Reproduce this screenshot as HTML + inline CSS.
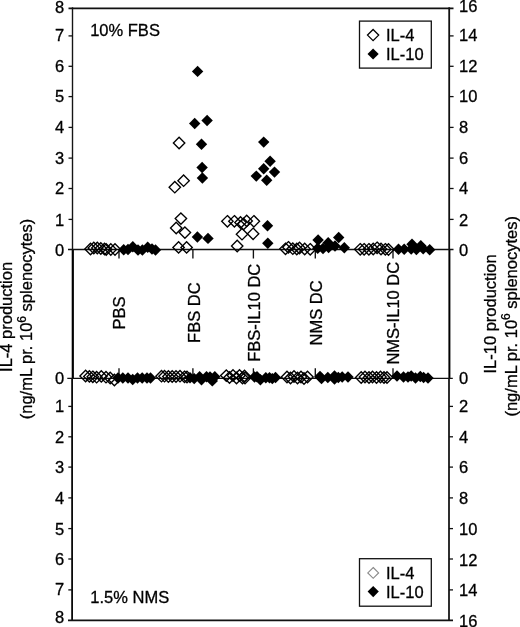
<!DOCTYPE html>
<html><head><meta charset="utf-8"><title>IL-4 / IL-10 production</title>
<style>html,body{margin:0;padding:0;background:#fff;}body{width:520px;height:627px;overflow:hidden;font-family:"Liberation Sans",sans-serif;}svg{display:block;will-change:transform;}</style>
</head><body>
<svg width="520" height="627" viewBox="0 0 520 627" font-family="Liberation Sans, sans-serif" font-size="16.5" fill="#000">
<rect width="520" height="627" fill="#fff"/>
<style>text{stroke:#000;stroke-width:0.3;}</style>
<line x1="72.5" y1="7.3" x2="72.5" y2="249.6" stroke="#151515" stroke-width="1.4"/><line x1="72.8" y1="249.6" x2="72.8" y2="378.3" stroke="#000" stroke-width="2.2"/><line x1="72.1" y1="378.3" x2="72.1" y2="621.1" stroke="#0a0a0a" stroke-width="1.8"/><line x1="449.2" y1="7.3" x2="449.2" y2="249.6" stroke="#111" stroke-width="1.8"/><line x1="449.4" y1="249.6" x2="449.4" y2="378.3" stroke="#000" stroke-width="2.0"/><line x1="449.0" y1="378.3" x2="449.0" y2="621.1" stroke="#0a0a0a" stroke-width="1.7"/><line x1="68.5" y1="8.4" x2="453.5" y2="8.4" stroke="#111" stroke-width="1.8"/><line x1="68.0" y1="620.3" x2="453.0" y2="620.3" stroke="#111" stroke-width="1.8"/><line x1="68.0" y1="249.55" x2="453.5" y2="249.55" stroke="#111" stroke-width="1.4"/><line x1="67.3" y1="378.4" x2="452.8" y2="378.4" stroke="#111" stroke-width="1.3"/><line x1="68.5" y1="35.9" x2="72.5" y2="35.9" stroke="#111" stroke-width="1.3"/><line x1="449.2" y1="35.9" x2="453.6" y2="35.9" stroke="#111" stroke-width="1.3"/><line x1="68.5" y1="66.3" x2="72.5" y2="66.3" stroke="#111" stroke-width="1.3"/><line x1="449.2" y1="66.3" x2="453.6" y2="66.3" stroke="#111" stroke-width="1.3"/><line x1="68.5" y1="96.6" x2="72.5" y2="96.6" stroke="#111" stroke-width="1.3"/><line x1="449.2" y1="96.6" x2="453.6" y2="96.6" stroke="#111" stroke-width="1.3"/><line x1="68.5" y1="127.4" x2="72.5" y2="127.4" stroke="#111" stroke-width="1.3"/><line x1="449.2" y1="127.4" x2="453.6" y2="127.4" stroke="#111" stroke-width="1.3"/><line x1="68.5" y1="158.1" x2="72.5" y2="158.1" stroke="#111" stroke-width="1.3"/><line x1="449.2" y1="158.1" x2="453.6" y2="158.1" stroke="#111" stroke-width="1.3"/><line x1="68.5" y1="188.5" x2="72.5" y2="188.5" stroke="#111" stroke-width="1.3"/><line x1="449.2" y1="188.5" x2="453.6" y2="188.5" stroke="#111" stroke-width="1.3"/><line x1="68.5" y1="219.4" x2="72.5" y2="219.4" stroke="#111" stroke-width="1.3"/><line x1="449.2" y1="219.4" x2="453.6" y2="219.4" stroke="#111" stroke-width="1.3"/><line x1="68.3" y1="406.4" x2="72.1" y2="406.4" stroke="#111" stroke-width="1.3"/><line x1="449.0" y1="406.4" x2="453.0" y2="406.4" stroke="#111" stroke-width="1.3"/><line x1="68.3" y1="436.8" x2="72.1" y2="436.8" stroke="#111" stroke-width="1.3"/><line x1="449.0" y1="436.8" x2="453.0" y2="436.8" stroke="#111" stroke-width="1.3"/><line x1="68.3" y1="467.1" x2="72.1" y2="467.1" stroke="#111" stroke-width="1.3"/><line x1="449.0" y1="467.1" x2="453.0" y2="467.1" stroke="#111" stroke-width="1.3"/><line x1="68.3" y1="497.9" x2="72.1" y2="497.9" stroke="#111" stroke-width="1.3"/><line x1="449.0" y1="497.9" x2="453.0" y2="497.9" stroke="#111" stroke-width="1.3"/><line x1="68.3" y1="528.6" x2="72.1" y2="528.6" stroke="#111" stroke-width="1.3"/><line x1="449.0" y1="528.6" x2="453.0" y2="528.6" stroke="#111" stroke-width="1.3"/><line x1="68.3" y1="559.0" x2="72.1" y2="559.0" stroke="#111" stroke-width="1.3"/><line x1="449.0" y1="559.0" x2="453.0" y2="559.0" stroke="#111" stroke-width="1.3"/><line x1="68.3" y1="589.9" x2="72.1" y2="589.9" stroke="#111" stroke-width="1.3"/><line x1="449.0" y1="589.9" x2="453.0" y2="589.9" stroke="#111" stroke-width="1.3"/><line x1="119" y1="249.6" x2="119" y2="258.5" stroke="#111" stroke-width="1.35"/><line x1="119" y1="368.3" x2="119" y2="378.2" stroke="#111" stroke-width="1.35"/><line x1="192.9" y1="249.6" x2="192.9" y2="258.5" stroke="#111" stroke-width="1.35"/><line x1="192.9" y1="368.3" x2="192.9" y2="378.2" stroke="#111" stroke-width="1.35"/><line x1="253.4" y1="249.6" x2="253.4" y2="258.5" stroke="#111" stroke-width="1.35"/><line x1="253.4" y1="368.3" x2="253.4" y2="378.2" stroke="#111" stroke-width="1.35"/><line x1="315.3" y1="249.6" x2="315.3" y2="258.5" stroke="#111" stroke-width="1.35"/><line x1="315.3" y1="368.3" x2="315.3" y2="378.2" stroke="#111" stroke-width="1.35"/><line x1="393" y1="249.6" x2="393" y2="258.5" stroke="#111" stroke-width="1.35"/><line x1="393" y1="368.3" x2="393" y2="378.2" stroke="#111" stroke-width="1.35"/>
<path d="M90.50 243.30L96.20 249.00L90.50 254.70L84.80 249.00Z" fill="none" stroke="#000" stroke-width="1.35" stroke-linejoin="miter"/><path d="M93.80 242.30L99.50 248.00L93.80 253.70L88.10 248.00Z" fill="none" stroke="#000" stroke-width="1.35" stroke-linejoin="miter"/><path d="M97.30 242.30L103.00 248.00L97.30 253.70L91.60 248.00Z" fill="none" stroke="#000" stroke-width="1.35" stroke-linejoin="miter"/><path d="M100.80 242.80L106.50 248.50L100.80 254.20L95.10 248.50Z" fill="none" stroke="#000" stroke-width="1.35" stroke-linejoin="miter"/><path d="M104.50 243.30L110.20 249.00L104.50 254.70L98.80 249.00Z" fill="none" stroke="#000" stroke-width="1.35" stroke-linejoin="miter"/><path d="M106.20 243.80L111.90 249.50L106.20 255.20L100.50 249.50Z" fill="none" stroke="#000" stroke-width="1.35" stroke-linejoin="miter"/><path d="M110.80 243.80L116.50 249.50L110.80 255.20L105.10 249.50Z" fill="none" stroke="#000" stroke-width="1.35" stroke-linejoin="miter"/><path d="M115.00 243.80L120.70 249.50L115.00 255.20L109.30 249.50Z" fill="none" stroke="#000" stroke-width="1.35" stroke-linejoin="miter"/><path d="M179.10 137.30L184.80 143.00L179.10 148.70L173.40 143.00Z" fill="none" stroke="#000" stroke-width="1.35" stroke-linejoin="miter"/><path d="M183.60 175.00L189.30 180.70L183.60 186.40L177.90 180.70Z" fill="none" stroke="#000" stroke-width="1.35" stroke-linejoin="miter"/><path d="M174.80 181.50L180.50 187.20L174.80 192.90L169.10 187.20Z" fill="none" stroke="#000" stroke-width="1.35" stroke-linejoin="miter"/><path d="M180.90 212.90L186.60 218.60L180.90 224.30L175.20 218.60Z" fill="none" stroke="#000" stroke-width="1.35" stroke-linejoin="miter"/><path d="M176.20 222.30L181.90 228.00L176.20 233.70L170.50 228.00Z" fill="none" stroke="#000" stroke-width="1.35" stroke-linejoin="miter"/><path d="M184.90 226.90L190.60 232.60L184.90 238.30L179.20 232.60Z" fill="none" stroke="#000" stroke-width="1.35" stroke-linejoin="miter"/><path d="M178.60 241.70L184.30 247.40L178.60 253.10L172.90 247.40Z" fill="none" stroke="#000" stroke-width="1.35" stroke-linejoin="miter"/><path d="M186.60 241.70L192.30 247.40L186.60 253.10L180.90 247.40Z" fill="none" stroke="#000" stroke-width="1.35" stroke-linejoin="miter"/><path d="M227.40 215.60L233.10 221.30L227.40 227.00L221.70 221.30Z" fill="none" stroke="#000" stroke-width="1.35" stroke-linejoin="miter"/><path d="M234.40 215.60L240.10 221.30L234.40 227.00L228.70 221.30Z" fill="none" stroke="#000" stroke-width="1.35" stroke-linejoin="miter"/><path d="M240.50 216.80L246.20 222.50L240.50 228.20L234.80 222.50Z" fill="none" stroke="#000" stroke-width="1.35" stroke-linejoin="miter"/><path d="M243.50 218.30L249.20 224.00L243.50 229.70L237.80 224.00Z" fill="none" stroke="#000" stroke-width="1.35" stroke-linejoin="miter"/><path d="M246.70 215.20L252.40 220.90L246.70 226.60L241.00 220.90Z" fill="none" stroke="#000" stroke-width="1.35" stroke-linejoin="miter"/><path d="M253.90 215.60L259.60 221.30L253.90 227.00L248.20 221.30Z" fill="none" stroke="#000" stroke-width="1.35" stroke-linejoin="miter"/><path d="M242.00 228.50L247.70 234.20L242.00 239.90L236.30 234.20Z" fill="none" stroke="#000" stroke-width="1.35" stroke-linejoin="miter"/><path d="M253.10 228.10L258.80 233.80L253.10 239.50L247.40 233.80Z" fill="none" stroke="#000" stroke-width="1.35" stroke-linejoin="miter"/><path d="M237.20 240.30L242.90 246.00L237.20 251.70L231.50 246.00Z" fill="none" stroke="#000" stroke-width="1.35" stroke-linejoin="miter"/><path d="M285.50 243.10L291.20 248.80L285.50 254.50L279.80 248.80Z" fill="none" stroke="#000" stroke-width="1.35" stroke-linejoin="miter"/><path d="M288.40 241.60L294.10 247.30L288.40 253.00L282.70 247.30Z" fill="none" stroke="#000" stroke-width="1.35" stroke-linejoin="miter"/><path d="M292.80 243.00L298.50 248.70L292.80 254.40L287.10 248.70Z" fill="none" stroke="#000" stroke-width="1.35" stroke-linejoin="miter"/><path d="M296.80 243.30L302.50 249.00L296.80 254.70L291.10 249.00Z" fill="none" stroke="#000" stroke-width="1.35" stroke-linejoin="miter"/><path d="M299.50 242.30L305.20 248.00L299.50 253.70L293.80 248.00Z" fill="none" stroke="#000" stroke-width="1.35" stroke-linejoin="miter"/><path d="M304.70 243.30L310.40 249.00L304.70 254.70L299.00 249.00Z" fill="none" stroke="#000" stroke-width="1.35" stroke-linejoin="miter"/><path d="M310.20 243.60L315.90 249.30L310.20 255.00L304.50 249.30Z" fill="none" stroke="#000" stroke-width="1.35" stroke-linejoin="miter"/><path d="M360.20 243.60L365.90 249.30L360.20 255.00L354.50 249.30Z" fill="none" stroke="#000" stroke-width="1.35" stroke-linejoin="miter"/><path d="M364.10 243.60L369.80 249.30L364.10 255.00L358.40 249.30Z" fill="none" stroke="#000" stroke-width="1.35" stroke-linejoin="miter"/><path d="M368.90 243.60L374.60 249.30L368.90 255.00L363.20 249.30Z" fill="none" stroke="#000" stroke-width="1.35" stroke-linejoin="miter"/><path d="M373.20 243.30L378.90 249.00L373.20 254.70L367.50 249.00Z" fill="none" stroke="#000" stroke-width="1.35" stroke-linejoin="miter"/><path d="M377.10 242.10L382.80 247.80L377.10 253.50L371.40 247.80Z" fill="none" stroke="#000" stroke-width="1.35" stroke-linejoin="miter"/><path d="M381.00 243.30L386.70 249.00L381.00 254.70L375.30 249.00Z" fill="none" stroke="#000" stroke-width="1.35" stroke-linejoin="miter"/><path d="M385.30 243.60L391.00 249.30L385.30 255.00L379.60 249.30Z" fill="none" stroke="#000" stroke-width="1.35" stroke-linejoin="miter"/><path d="M388.50 243.80L394.20 249.50L388.50 255.20L382.80 249.50Z" fill="none" stroke="#000" stroke-width="1.35" stroke-linejoin="miter"/><path d="M85.60 370.30L91.30 376.00L85.60 381.70L79.90 376.00Z" fill="none" stroke="#000" stroke-width="1.35" stroke-linejoin="miter"/><path d="M89.40 370.70L95.10 376.40L89.40 382.10L83.70 376.40Z" fill="none" stroke="#000" stroke-width="1.35" stroke-linejoin="miter"/><path d="M92.80 371.10L98.50 376.80L92.80 382.50L87.10 376.80Z" fill="none" stroke="#000" stroke-width="1.35" stroke-linejoin="miter"/><path d="M96.60 371.50L102.30 377.20L96.60 382.90L90.90 377.20Z" fill="none" stroke="#000" stroke-width="1.35" stroke-linejoin="miter"/><path d="M101.30 370.70L107.00 376.40L101.30 382.10L95.60 376.40Z" fill="none" stroke="#000" stroke-width="1.35" stroke-linejoin="miter"/><path d="M106.00 371.50L111.70 377.20L106.00 382.90L100.30 377.20Z" fill="none" stroke="#000" stroke-width="1.35" stroke-linejoin="miter"/><path d="M110.20 372.30L115.90 378.00L110.20 383.70L104.50 378.00Z" fill="none" stroke="#000" stroke-width="1.35" stroke-linejoin="miter"/><path d="M114.40 374.30L120.10 380.00L114.40 385.70L108.70 380.00Z" fill="none" stroke="#000" stroke-width="1.35" stroke-linejoin="miter"/><path d="M161.50 370.50L167.20 376.20L161.50 381.90L155.80 376.20Z" fill="none" stroke="#000" stroke-width="1.35" stroke-linejoin="miter"/><path d="M164.50 370.50L170.20 376.20L164.50 381.90L158.80 376.20Z" fill="none" stroke="#000" stroke-width="1.35" stroke-linejoin="miter"/><path d="M168.40 370.80L174.10 376.50L168.40 382.20L162.70 376.50Z" fill="none" stroke="#000" stroke-width="1.35" stroke-linejoin="miter"/><path d="M172.20 370.80L177.90 376.50L172.20 382.20L166.50 376.50Z" fill="none" stroke="#000" stroke-width="1.35" stroke-linejoin="miter"/><path d="M176.00 370.80L181.70 376.50L176.00 382.20L170.30 376.50Z" fill="none" stroke="#000" stroke-width="1.35" stroke-linejoin="miter"/><path d="M180.00 370.50L185.70 376.20L180.00 381.90L174.30 376.20Z" fill="none" stroke="#000" stroke-width="1.35" stroke-linejoin="miter"/><path d="M184.50 371.10L190.20 376.80L184.50 382.50L178.80 376.80Z" fill="none" stroke="#000" stroke-width="1.35" stroke-linejoin="miter"/><path d="M187.00 371.30L192.70 377.00L187.00 382.70L181.30 377.00Z" fill="none" stroke="#000" stroke-width="1.35" stroke-linejoin="miter"/><path d="M226.30 369.90L232.00 375.60L226.30 381.30L220.60 375.60Z" fill="none" stroke="#000" stroke-width="1.35" stroke-linejoin="miter"/><path d="M229.50 371.80L235.20 377.50L229.50 383.20L223.80 377.50Z" fill="none" stroke="#000" stroke-width="1.35" stroke-linejoin="miter"/><path d="M233.00 369.80L238.70 375.50L233.00 381.20L227.30 375.50Z" fill="none" stroke="#000" stroke-width="1.35" stroke-linejoin="miter"/><path d="M236.50 372.30L242.20 378.00L236.50 383.70L230.80 378.00Z" fill="none" stroke="#000" stroke-width="1.35" stroke-linejoin="miter"/><path d="M239.50 369.80L245.20 375.50L239.50 381.20L233.80 375.50Z" fill="none" stroke="#000" stroke-width="1.35" stroke-linejoin="miter"/><path d="M242.50 372.30L248.20 378.00L242.50 383.70L236.80 378.00Z" fill="none" stroke="#000" stroke-width="1.35" stroke-linejoin="miter"/><path d="M244.50 370.30L250.20 376.00L244.50 381.70L238.80 376.00Z" fill="none" stroke="#000" stroke-width="1.35" stroke-linejoin="miter"/><path d="M245.00 372.30L250.70 378.00L245.00 383.70L239.30 378.00Z" fill="none" stroke="#000" stroke-width="1.35" stroke-linejoin="miter"/><path d="M287.00 371.30L292.70 377.00L287.00 382.70L281.30 377.00Z" fill="none" stroke="#000" stroke-width="1.35" stroke-linejoin="miter"/><path d="M290.50 372.30L296.20 378.00L290.50 383.70L284.80 378.00Z" fill="none" stroke="#000" stroke-width="1.35" stroke-linejoin="miter"/><path d="M294.00 370.80L299.70 376.50L294.00 382.20L288.30 376.50Z" fill="none" stroke="#000" stroke-width="1.35" stroke-linejoin="miter"/><path d="M297.50 372.30L303.20 378.00L297.50 383.70L291.80 378.00Z" fill="none" stroke="#000" stroke-width="1.35" stroke-linejoin="miter"/><path d="M301.00 371.30L306.70 377.00L301.00 382.70L295.30 377.00Z" fill="none" stroke="#000" stroke-width="1.35" stroke-linejoin="miter"/><path d="M304.00 372.80L309.70 378.50L304.00 384.20L298.30 378.50Z" fill="none" stroke="#000" stroke-width="1.35" stroke-linejoin="miter"/><path d="M307.50 371.30L313.20 377.00L307.50 382.70L301.80 377.00Z" fill="none" stroke="#000" stroke-width="1.35" stroke-linejoin="miter"/><path d="M361.20 371.80L366.90 377.50L361.20 383.20L355.50 377.50Z" fill="none" stroke="#000" stroke-width="1.35" stroke-linejoin="miter"/><path d="M365.00 371.30L370.70 377.00L365.00 382.70L359.30 377.00Z" fill="none" stroke="#000" stroke-width="1.35" stroke-linejoin="miter"/><path d="M369.00 371.80L374.70 377.50L369.00 383.20L363.30 377.50Z" fill="none" stroke="#000" stroke-width="1.35" stroke-linejoin="miter"/><path d="M372.50 371.30L378.20 377.00L372.50 382.70L366.80 377.00Z" fill="none" stroke="#000" stroke-width="1.35" stroke-linejoin="miter"/><path d="M376.50 371.80L382.20 377.50L376.50 383.20L370.80 377.50Z" fill="none" stroke="#000" stroke-width="1.35" stroke-linejoin="miter"/><path d="M380.50 371.30L386.20 377.00L380.50 382.70L374.80 377.00Z" fill="none" stroke="#000" stroke-width="1.35" stroke-linejoin="miter"/><path d="M384.00 371.80L389.70 377.50L384.00 383.20L378.30 377.50Z" fill="none" stroke="#000" stroke-width="1.35" stroke-linejoin="miter"/><path d="M387.00 371.80L392.70 377.50L387.00 383.20L381.30 377.50Z" fill="none" stroke="#000" stroke-width="1.35" stroke-linejoin="miter"/><path d="M123.70 244.00L129.40 249.70L123.70 255.40L118.00 249.70Z" fill="#000"/><path d="M128.00 243.80L133.70 249.50L128.00 255.20L122.30 249.50Z" fill="#000"/><path d="M132.80 241.10L138.50 246.80L132.80 252.50L127.10 246.80Z" fill="#000"/><path d="M138.00 244.30L143.70 250.00L138.00 255.70L132.30 250.00Z" fill="#000"/><path d="M142.40 244.30L148.10 250.00L142.40 255.70L136.70 250.00Z" fill="#000"/><path d="M147.70 241.60L153.40 247.30L147.70 253.00L142.00 247.30Z" fill="#000"/><path d="M152.00 243.30L157.70 249.00L152.00 254.70L146.30 249.00Z" fill="#000"/><path d="M155.50 244.30L161.20 250.00L155.50 255.70L149.80 250.00Z" fill="#000"/><path d="M197.60 65.70L203.30 71.40L197.60 77.10L191.90 71.40Z" fill="#000"/><path d="M194.70 117.80L200.40 123.50L194.70 129.20L189.00 123.50Z" fill="#000"/><path d="M207.10 114.80L212.80 120.50L207.10 126.20L201.40 120.50Z" fill="#000"/><path d="M201.50 138.60L207.20 144.30L201.50 150.00L195.80 144.30Z" fill="#000"/><path d="M202.10 161.80L207.80 167.50L202.10 173.20L196.40 167.50Z" fill="#000"/><path d="M202.40 172.30L208.10 178.00L202.40 183.70L196.70 178.00Z" fill="#000"/><path d="M197.40 231.30L203.10 237.00L197.40 242.70L191.70 237.00Z" fill="#000"/><path d="M208.00 232.70L213.70 238.40L208.00 244.10L202.30 238.40Z" fill="#000"/><path d="M263.70 136.40L269.40 142.10L263.70 147.80L258.00 142.10Z" fill="#000"/><path d="M270.10 155.60L275.80 161.30L270.10 167.00L264.40 161.30Z" fill="#000"/><path d="M263.70 163.00L269.40 168.70L263.70 174.40L258.00 168.70Z" fill="#000"/><path d="M274.50 166.40L280.20 172.10L274.50 177.80L268.80 172.10Z" fill="#000"/><path d="M256.30 170.40L262.00 176.10L256.30 181.80L250.60 176.10Z" fill="#000"/><path d="M266.70 174.50L272.40 180.20L266.70 185.90L261.00 180.20Z" fill="#000"/><path d="M267.50 220.10L273.20 225.80L267.50 231.50L261.80 225.80Z" fill="#000"/><path d="M267.80 237.60L273.50 243.30L267.80 249.00L262.10 243.30Z" fill="#000"/><path d="M318.10 234.30L323.80 240.00L318.10 245.70L312.40 240.00Z" fill="#000"/><path d="M328.20 237.10L333.90 242.80L328.20 248.50L322.50 242.80Z" fill="#000"/><path d="M338.70 231.80L344.40 237.50L338.70 243.20L333.00 237.50Z" fill="#000"/><path d="M344.30 242.10L350.00 247.80L344.30 253.50L338.60 247.80Z" fill="#000"/><path d="M317.70 242.60L323.40 248.30L317.70 254.00L312.00 248.30Z" fill="#000"/><path d="M323.00 242.80L328.70 248.50L323.00 254.20L317.30 248.50Z" fill="#000"/><path d="M328.60 241.80L334.30 247.50L328.60 253.20L322.90 247.50Z" fill="#000"/><path d="M335.00 240.30L340.70 246.00L335.00 251.70L329.30 246.00Z" fill="#000"/><path d="M398.50 243.60L404.20 249.30L398.50 255.00L392.80 249.30Z" fill="#000"/><path d="M404.20 243.60L409.90 249.30L404.20 255.00L398.50 249.30Z" fill="#000"/><path d="M412.00 238.60L417.70 244.30L412.00 250.00L406.30 244.30Z" fill="#000"/><path d="M420.80 240.10L426.50 245.80L420.80 251.50L415.10 245.80Z" fill="#000"/><path d="M429.70 244.00L435.40 249.70L429.70 255.40L424.00 249.70Z" fill="#000"/><path d="M411.20 243.30L416.90 249.00L411.20 254.70L405.50 249.00Z" fill="#000"/><path d="M416.40 243.80L422.10 249.50L416.40 255.20L410.70 249.50Z" fill="#000"/><path d="M423.20 243.10L428.90 248.80L423.20 254.50L417.50 248.80Z" fill="#000"/><path d="M118.00 372.30L123.70 378.00L118.00 383.70L112.30 378.00Z" fill="#000"/><path d="M122.80 372.30L128.50 378.00L122.80 383.70L117.10 378.00Z" fill="#000"/><path d="M128.00 372.30L133.70 378.00L128.00 383.70L122.30 378.00Z" fill="#000"/><path d="M132.70 373.80L138.40 379.50L132.70 385.20L127.00 379.50Z" fill="#000"/><path d="M137.50 372.30L143.20 378.00L137.50 383.70L131.80 378.00Z" fill="#000"/><path d="M142.20 372.30L147.90 378.00L142.20 383.70L136.50 378.00Z" fill="#000"/><path d="M147.00 372.30L152.70 378.00L147.00 383.70L141.30 378.00Z" fill="#000"/><path d="M150.50 372.30L156.20 378.00L150.50 383.70L144.80 378.00Z" fill="#000"/><path d="M190.00 372.10L195.70 377.80L190.00 383.50L184.30 377.80Z" fill="#000"/><path d="M194.20 372.90L199.90 378.60L194.20 384.30L188.50 378.60Z" fill="#000"/><path d="M199.60 371.10L205.30 376.80L199.60 382.50L193.90 376.80Z" fill="#000"/><path d="M201.50 374.00L207.20 379.70L201.50 385.40L195.80 379.70Z" fill="#000"/><path d="M206.50 371.10L212.20 376.80L206.50 382.50L200.80 376.80Z" fill="#000"/><path d="M210.00 371.30L215.70 377.00L210.00 382.70L204.30 377.00Z" fill="#000"/><path d="M212.30 375.20L218.00 380.90L212.30 386.60L206.60 380.90Z" fill="#000"/><path d="M214.80 371.10L220.50 376.80L214.80 382.50L209.10 376.80Z" fill="#000"/><path d="M254.50 371.30L260.20 377.00L254.50 382.70L248.80 377.00Z" fill="#000"/><path d="M257.00 371.10L262.70 376.80L257.00 382.50L251.30 376.80Z" fill="#000"/><path d="M260.40 374.00L266.10 379.70L260.40 385.40L254.70 379.70Z" fill="#000"/><path d="M265.80 372.10L271.50 377.80L265.80 383.50L260.10 377.80Z" fill="#000"/><path d="M269.50 372.10L275.20 377.80L269.50 383.50L263.80 377.80Z" fill="#000"/><path d="M272.30 372.90L278.00 378.60L272.30 384.30L266.60 378.60Z" fill="#000"/><path d="M275.50 371.80L281.20 377.50L275.50 383.20L269.80 377.50Z" fill="#000"/><path d="M320.00 370.80L325.70 376.50L320.00 382.20L314.30 376.50Z" fill="#000"/><path d="M321.50 372.80L327.20 378.50L321.50 384.20L315.80 378.50Z" fill="#000"/><path d="M327.80 371.80L333.50 377.50L327.80 383.20L322.10 377.50Z" fill="#000"/><path d="M334.50 370.30L340.20 376.00L334.50 381.70L328.80 376.00Z" fill="#000"/><path d="M334.50 373.30L340.20 379.00L334.50 384.70L328.80 379.00Z" fill="#000"/><path d="M338.30 371.80L344.00 377.50L338.30 383.20L332.60 377.50Z" fill="#000"/><path d="M342.20 371.30L347.90 377.00L342.20 382.70L336.50 377.00Z" fill="#000"/><path d="M348.00 371.30L353.70 377.00L348.00 382.70L342.30 377.00Z" fill="#000"/><path d="M397.00 370.30L402.70 376.00L397.00 381.70L391.30 376.00Z" fill="#000"/><path d="M403.50 371.30L409.20 377.00L403.50 382.70L397.80 377.00Z" fill="#000"/><path d="M408.00 371.30L413.70 377.00L408.00 382.70L402.30 377.00Z" fill="#000"/><path d="M411.20 370.30L416.90 376.00L411.20 381.70L405.50 376.00Z" fill="#000"/><path d="M415.50 372.30L421.20 378.00L415.50 383.70L409.80 378.00Z" fill="#000"/><path d="M420.30 370.80L426.00 376.50L420.30 382.20L414.60 376.50Z" fill="#000"/><path d="M423.60 371.80L429.30 377.50L423.60 383.20L417.90 377.50Z" fill="#000"/><path d="M428.00 372.30L433.70 378.00L428.00 383.70L422.30 378.00Z" fill="#000"/>
<rect x="359.5" y="21.1" width="71.8" height="47.0" fill="#fff" stroke="#111" stroke-width="1.3"/><path d="M373.10 29.50L378.70 35.10L373.10 40.70L367.50 35.10Z" fill="none" stroke="#000" stroke-width="1.3" stroke-linejoin="miter"/><path d="M373.10 48.40L378.70 54.00L373.10 59.60L367.50 54.00Z" fill="#000"/><text x="386" y="40.8">IL-4</text><text x="386" y="59.7">IL-10</text><rect x="359.5" y="558.7" width="71.8" height="47.5" fill="#fff" stroke="#111" stroke-width="1.3"/><path d="M373.20 567.50L378.60 572.90L373.20 578.30L367.80 572.90Z" fill="none" stroke="#8a8a8a" stroke-width="1.15" stroke-linejoin="miter"/><path d="M373.20 586.00L378.80 591.60L373.20 597.20L367.60 591.60Z" fill="#000"/><text x="386" y="579.0">IL-4</text><text x="386" y="597.9">IL-10</text>
<text x="64.3" y="12.6" text-anchor="end">8</text><text x="459.0" y="12.2">16</text><text x="64.3" y="40.8" text-anchor="end">7</text><text x="459.0" y="40.9">14</text><text x="64.3" y="71.9" text-anchor="end">6</text><text x="459.0" y="71.9">12</text><text x="64.3" y="101.9" text-anchor="end">5</text><text x="459.0" y="101.9">10</text><text x="64.3" y="132.7" text-anchor="end">4</text><text x="459.0" y="132.7">8</text><text x="64.3" y="164.1" text-anchor="end">3</text><text x="459.0" y="164.1">6</text><text x="64.3" y="193.9" text-anchor="end">2</text><text x="459.0" y="193.9">4</text><text x="64.3" y="225.9" text-anchor="end">1</text><text x="459.0" y="225.9">2</text><text x="64.3" y="255.6" text-anchor="end">0</text><text x="459.0" y="255.6">0</text><text x="64.3" y="384.4" text-anchor="end">0</text><text x="459.0" y="384.4">0</text><text x="64.3" y="412.3" text-anchor="end">1</text><text x="459.0" y="412.3">2</text><text x="64.3" y="442.5" text-anchor="end">2</text><text x="459.0" y="442.5">4</text><text x="64.3" y="473.0" text-anchor="end">3</text><text x="459.0" y="473.0">6</text><text x="64.3" y="503.8" text-anchor="end">4</text><text x="459.0" y="503.8">8</text><text x="64.3" y="534.5" text-anchor="end">5</text><text x="459.0" y="534.5">10</text><text x="64.3" y="564.9" text-anchor="end">6</text><text x="459.0" y="566.2">12</text><text x="64.3" y="595.3" text-anchor="end">7</text><text x="459.0" y="596.4">14</text><text x="64.3" y="622.8" text-anchor="end">8</text><text x="459.0" y="626.6">16</text>
<text x="90.2" y="35.7">10% FBS</text><text x="90.3" y="603.3">1.5% NMS</text><text transform="translate(124.7,312.9) rotate(-90)" text-anchor="middle">PBS</text><text transform="translate(199.9,312.7) rotate(-90)" text-anchor="middle">FBS DC</text><text transform="translate(260.4,312.8) rotate(-90)" text-anchor="middle">FBS-IL10 DC</text><text transform="translate(321.8,312.9) rotate(-90)" text-anchor="middle">NMS DC</text><text transform="translate(398.7,313.2) rotate(-90)" text-anchor="middle">NMS-IL10 DC</text><text transform="translate(12,316.9) rotate(-90)" text-anchor="middle">IL-4 production</text><text transform="translate(32.4,319.0) rotate(-90)" text-anchor="middle">(ng/mL pr. 10<tspan dy="-6.2" font-size="12">6</tspan><tspan dy="6.2"> splenocytes)</tspan></text><text transform="translate(496.2,313.9) rotate(-90)" text-anchor="middle">IL-10 production</text><text transform="translate(516.6,316.3) rotate(-90)" text-anchor="middle">(ng/mL pr. 10<tspan dy="-6.2" font-size="12">6</tspan><tspan dy="6.2"> splenocytes)</tspan></text>
</svg>
</body></html>
